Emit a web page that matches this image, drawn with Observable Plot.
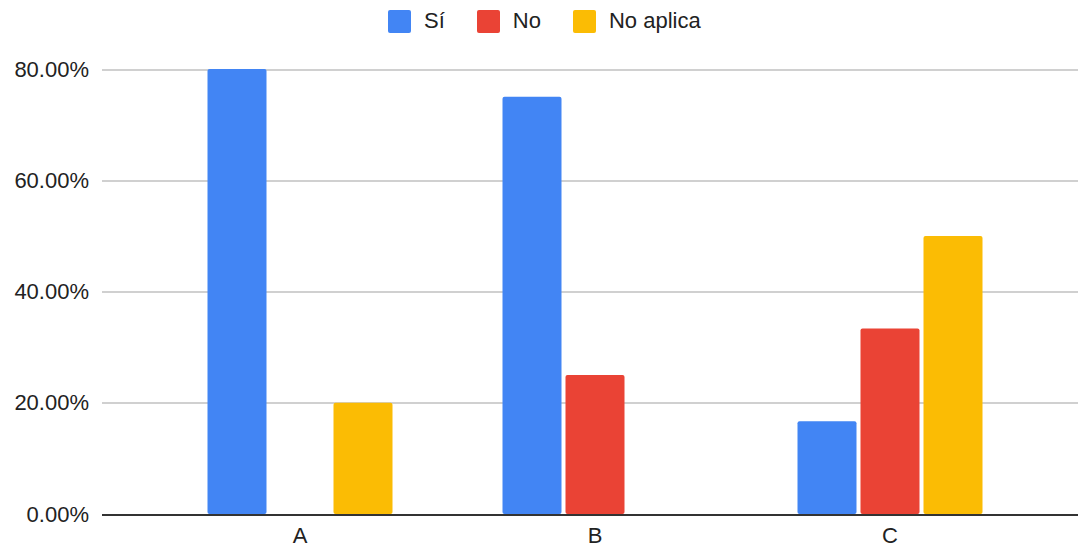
<!DOCTYPE html>
<html>
<head>
<meta charset="utf-8">
<script src="https://cdn.jsdelivr.net/npm/d3@7"></script>
<script src="https://cdn.jsdelivr.net/npm/@observablehq/plot@0.6"></script>
<style>
  html, body { margin: 0; padding: 0; background: white; overflow: hidden; }
  body { width: 1078px; height: 548px; font-family: "Liberation Sans", Arial, sans-serif; color: #222; }
  #legend { height: 42px; display: flex; align-items: center; padding-left: 388px; box-sizing: border-box; font-size: 22px; }
  .item { display: flex; align-items: center; margin-right: 32px; }
  .sw { width: 23px; height: 23px; border-radius: 2px; margin-right: 13px; }
</style>
</head>
<body>
<div id="legend"></div>
<div id="chart"></div>
<script>
const groups = ["A", "B", "C"];
const series = ["Sí", "No", "No aplica"];
const si = [0.80, 0.75, 0.1667];
const no = [0.00, 0.25, 0.3333];
const noAplica = [0.20, 0.00, 0.50];
const colors = ["#4285f4", "#ea4335", "#fbbc04"];
const yTicks = [0, 0.2, 0.4, 0.6, 0.8];

const valuesBySerie = [si, no, noAplica];
const data = groups.flatMap((g, i) =>
  series.map((s, j) => ({group: g, serie: s, value: valuesBySerie[j][i]}))
).filter(d => d.value > 0);

const legend = document.getElementById("legend");
series.forEach((s, j) => {
  const it = document.createElement("div");
  it.className = "item";
  const sw = document.createElement("div");
  sw.className = "sw";
  sw.style.background = colors[j];
  const t = document.createElement("span");
  t.textContent = s;
  it.appendChild(sw);
  it.appendChild(t);
  legend.appendChild(it);
});

const chart = Plot.plot({
  width: 1078,
  height: 506,
  marginLeft: 151.5,
  marginRight: 41.5,
  marginTop: 27,
  marginBottom: 34,
  style: {fontFamily: "'Liberation Sans', Arial, sans-serif", fontSize: "22px", color: "#222", background: "white"},
  fx: {domain: groups, padding: 0, label: null, axis: "bottom", tickSize: 0, tickPadding: 13},
  x: {domain: series, paddingInner: 0.0635, paddingOuter: 0.873, axis: null},
  y: {domain: [0, 0.8], axis: null},
  color: {domain: series, range: colors},
  marks: [
    Plot.ruleY(yTicks.slice(1), {stroke: "#d0d0d0", strokeWidth: 2, shapeRendering: "crispEdges", insetLeft: -50.5, insetRight: -50.5}),
    Plot.axisY(yTicks, {tickSize: 0, tickPadding: 63.5, tickFormat: d => (d * 100).toFixed(2) + "%", label: null, fill: "#222"}),
    Plot.barY(data, {fx: "group", x: "serie", y: "value", fill: "serie", rx: 2}),
    Plot.ruleY([0], {stroke: "#333333", strokeWidth: 2, shapeRendering: "crispEdges", insetLeft: -50.5, insetRight: -50.5})
  ]
});
document.getElementById("chart").appendChild(chart);
</script>
</body>
</html>
